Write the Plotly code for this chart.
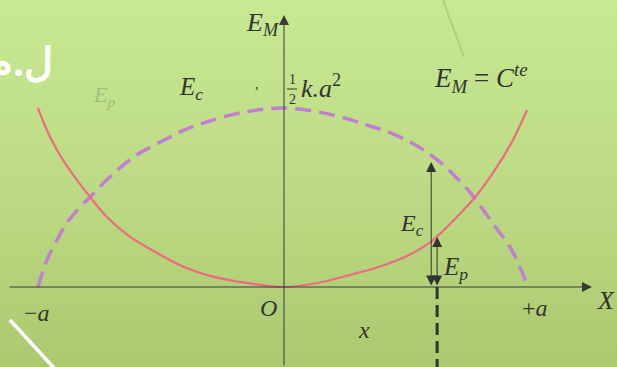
import plotly.graph_objects as go

# positions in units of the amplitude a, energies in units of E_M
x_ep = [-0.996, -0.947, -0.895, -0.838, -0.785, -0.717, -0.623, -0.514, -0.409, -0.300, -0.138, 0.0,
        0.134, 0.267, 0.389, 0.498, 0.603, 0.700, 0.781, 0.862, 0.927, 0.984]
ep = [0.994, 0.833, 0.706, 0.594, 0.5, 0.389, 0.278, 0.189, 0.114, 0.062, 0.02, 0.0,
      0.022, 0.067, 0.114, 0.172, 0.261, 0.389, 0.511, 0.667, 0.817, 0.983]

x_ec = [-0.996, -0.960, -0.919, -0.879, -0.826, -0.785, -0.737, -0.664, -0.595, -0.543, -0.462,
        -0.393, -0.312, -0.178, 0.0, 0.198, 0.336, 0.429, 0.518, 0.563, 0.644, 0.692, 0.745,
        0.794, 0.854, 0.915, 0.955, 0.988]
ec = [0.0, 0.15, 0.261, 0.356, 0.444, 0.5, 0.568, 0.662, 0.735, 0.775, 0.833,
      0.878, 0.917, 0.967, 0.994, 0.956, 0.9, 0.858, 0.8, 0.763, 0.68, 0.615, 0.539,
      0.452, 0.337, 0.222, 0.111, 0.0]

x_mark = 0.62      # position x where Ec and Ep are shown
ec_mark = 0.694
ep_mark = 0.278

# pixel <-> data helpers (origin at pixel 284,287 ; a = 247 px ; E_M = 180 px)
W, H = 617, 367
OX, OY, SX, SY = 284, 287, 247, 180


def px(p):
    return (p - OX) / SX


def py(p):
    return (OY - p) / SY


fig = go.Figure()

# background gradient
fig.add_trace(go.Scatter(
    x=[px(0), px(W), px(W), px(0), px(0)], y=[py(H), py(H), py(0), py(0), py(H)],
    mode='lines', line=dict(width=0), fill='toself',
    fillgradient=dict(type='vertical', colorscale=[[0, '#abc96f'], [0.5, '#bcdb84'], [1, '#c8e892']]),
    hoverinfo='skip'))

fig.add_trace(go.Scatter(x=x_ec, y=ec, mode='lines', line_shape='spline',
                         line=dict(color='#c27fd2', width=3.5, dash='16px,8px')))
fig.add_trace(go.Scatter(x=x_ep, y=ep, mode='lines', line_shape='spline',
                         line=dict(color='#ee6a80', width=2.2)))

shapes = [
    # black dashed position line
    dict(type='line', x0=x_mark, x1=x_mark, y0=0, y1=py(H), line=dict(color='#333333', width=3, dash='12px,6px')),
    # fraction bar
    dict(type='line', x0=px(287), x1=px(297), y0=py(89), y1=py(89), line=dict(color='#333333', width=1)),
    # white stroke bottom left
    dict(type='line', x0=px(10), x1=px(54), y0=py(320), y1=py(368), line=dict(color='white', width=3.5)),
    # faint grey stroke top
    dict(type='line', x0=px(443), x1=px(464), y0=py(0), y1=py(57), line=dict(color='rgba(110,130,100,0.25)', width=2)),
]

ann = []
# axes with arrows
ann.append(dict(x=0, y=py(15), ax=0, ay=py(H), xref='x', yref='y', axref='x', ayref='y', text='',
                showarrow=True, arrowhead=2, arrowsize=2, arrowwidth=1, arrowcolor='#3a3a3a'))
ann.append(dict(x=px(592), y=0, ax=px(8), ay=0, xref='x', yref='y', axref='x', ayref='y', text='',
                showarrow=True, arrowhead=2, arrowsize=2, arrowwidth=1, arrowcolor='#3a3a3a'))
# Ec and Ep double arrows
ann.append(dict(x=x_mark - 0.024, y=ec_mark, ax=x_mark - 0.024, ay=0, xref='x', yref='y', axref='x', ayref='y',
                text='', showarrow=True, arrowhead=2, startarrowhead=2, arrowside='end+start',
                arrowsize=2, arrowwidth=1, arrowcolor='#333333'))
ann.append(dict(x=x_mark, y=ep_mark, ax=x_mark, ay=0, xref='x', yref='y', axref='x', ayref='y',
                text='', showarrow=True, arrowhead=2, startarrowhead=2, arrowside='end+start',
                arrowsize=2, arrowwidth=1, arrowcolor='#333333'))


def label(text, x, y, size=23, color='#333333', xanchor='center', family='Liberation Serif'):
    ann.append(dict(x=px(x), y=py(y), xref='x', yref='y', text=text, showarrow=False,
                    xanchor=xanchor, yanchor='middle', font=dict(family=family, size=size, color=color)))


label('<i>E</i><sub><i>M</i></sub>', 262, 24, 26)
label('<i>E</i><sub><i>c</i></sub>', 191, 88, 25)
label('<i>E</i><sub><i>p</i></sub>', 104, 96, 22, color='rgba(150,175,125,0.75)')
label(',', 257, 84, 14)
label('1', 292, 79, 14)
label('2', 292, 99, 14)
label('<i>k.a</i><sup>2</sup>', 299, 86, 26, xanchor='left')
label('<i>E</i><sub><i>M</i></sub> = <i>C</i><sup><i>te</i></sup>', 481, 78, 27)
label('<i>E</i><sub><i>c</i></sub>', 412, 225, 24)
label('<i>E</i><sub><i>p</i></sub>', 455, 268, 25)
label('<i>O</i>', 268, 308, 24)
label('<i>x</i>', 364, 330, 24)
label('−<i>a</i>', 37, 313, 24)
label('+<i>a</i>', 535, 308, 24)
label('<i>X</i>', 606, 300, 26)
label('<b>ل.م</b>', 55, 60, 40, color='white', xanchor='right', family='Noto Sans')

fig.update_layout(
    width=W, height=H, margin=dict(l=0, r=0, t=0, b=0),
    showlegend=False, plot_bgcolor='#bcdb84', paper_bgcolor='#bcdb84',
    xaxis=dict(range=[px(0), px(W)], visible=False, fixedrange=True),
    yaxis=dict(range=[py(H), py(0)], visible=False, fixedrange=True),
    shapes=shapes, annotations=ann,
)

fig.write_html("out.html", config={'displayModeBar': False},
               post_script="document.body.style.margin='0';")
